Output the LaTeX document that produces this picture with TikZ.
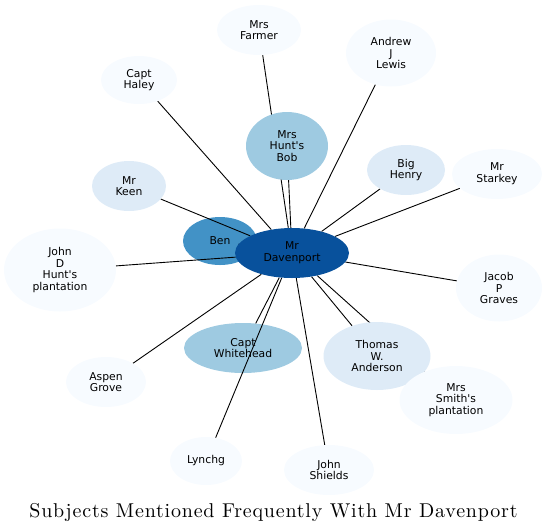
\documentclass[tikz,border=0pt]{standalone}
\usepackage{fontspec}
\newfontfamily\labelfont{DejaVu Sans}
\newfontfamily\titlefont{lmroman10-regular}[Extension=.otf, LetterSpace=4]
\usepackage{xcolor}
\usetikzlibrary{shapes.geometric}
\definecolor{bluD}{HTML}{08519C}
\definecolor{bluM}{HTML}{4292C6}
\definecolor{bluL}{HTML}{9ECAE1}
\definecolor{bluP}{HTML}{DEEBF7}
\definecolor{bluW}{HTML}{F7FBFF}
\pgfdeclarelayer{back}
\pgfdeclarelayer{edges}
\pgfsetlayers{back,edges,main}
\tikzset{
  subj/.style={ellipse, draw=none, inner sep=0pt, align=center,
    font=\labelfont\fontsize{10.8}{11.7}\selectfont},
  link/.style={line width=0.9pt, black}
}

\begin{document}
\begin{tikzpicture}[x=1pt, y=-1pt]
\useasboundingbox (0,0) rectangle (548,531);

% --- CENTRE ---
\node (dav) at (292,253) [subj, fill=bluD, minimum width=114, minimum height=50] {Mr\\Davenport};
\begin{pgfonlayer}{back}
  \node (ben) at (220,241) [subj, fill=bluM, minimum width=74, minimum height=48] {Ben};
  \node (whitehead) at (243,348) [subj, fill=bluL, minimum width=118, minimum height=50] {Capt\\Whitehead};
\end{pgfonlayer}

% --- SUBJECTS ---
\node (farmer) at (259,30) [subj, fill=bluW, minimum width=84, minimum height=50] {Mrs\\Farmer};
\node (lewis) at (391,53) [subj, fill=bluW, minimum width=90, minimum height=67] {Andrew\\J\\Lewis};
\node (haley) at (139,80) [subj, fill=bluW, minimum width=76, minimum height=48] {Capt\\Haley};
\node (bob) at (287,146) [subj, fill=bluL, minimum width=82, minimum height=68] {Mrs\\Hunt's\\Bob};
\node (henry) at (406,170) [subj, fill=bluP, minimum width=78, minimum height=50] {Big\\Henry};
\node (starkey) at (497,174) [subj, fill=bluW, minimum width=90, minimum height=50] {Mr\\Starkey};
\node (keen) at (129,186) [subj, fill=bluP, minimum width=74, minimum height=50] {Mr\\Keen};
\node (huntpl) at (60,270) [subj, fill=bluW, minimum width=112, minimum height=83] {John\\D\\Hunt's\\plantation};
\node (graves) at (499,288) [subj, fill=bluW, minimum width=86, minimum height=67] {Jacob\\P\\Graves};
\node (anderson) at (377,356) [subj, fill=bluP, minimum width=107, minimum height=68] {Thomas\\W.\\Anderson};
\node (aspen) at (106,382) [subj, fill=bluW, minimum width=80, minimum height=50] {Aspen\\Grove};
\node (smithpl) at (456,400) [subj, fill=bluW, minimum width=113, minimum height=68] {Mrs\\Smith's\\plantation};
\node (lynchg) at (206,461) [subj, fill=bluW, minimum width=72, minimum height=48] {Lynchg};
\node (shields) at (329,470) [subj, fill=bluW, minimum width=90, minimum height=50] {John\\Shields};

% --- LINKS ---
\begin{pgfonlayer}{edges}
  \foreach \s in {farmer, lewis, haley, bob, henry, starkey, keen, ben, huntpl,
                  graves, whitehead, anderson, aspen, smithpl, lynchg, shields}
    \draw[link] (dav) -- (\s);
\end{pgfonlayer}

% --- TITLE ---
\node (title) at (273.5,517) [anchor=base, font=\titlefont\fontsize{20}{24}\selectfont] {Subjects Mentioned Frequently With Mr Davenport};

\end{tikzpicture}
\end{document}
